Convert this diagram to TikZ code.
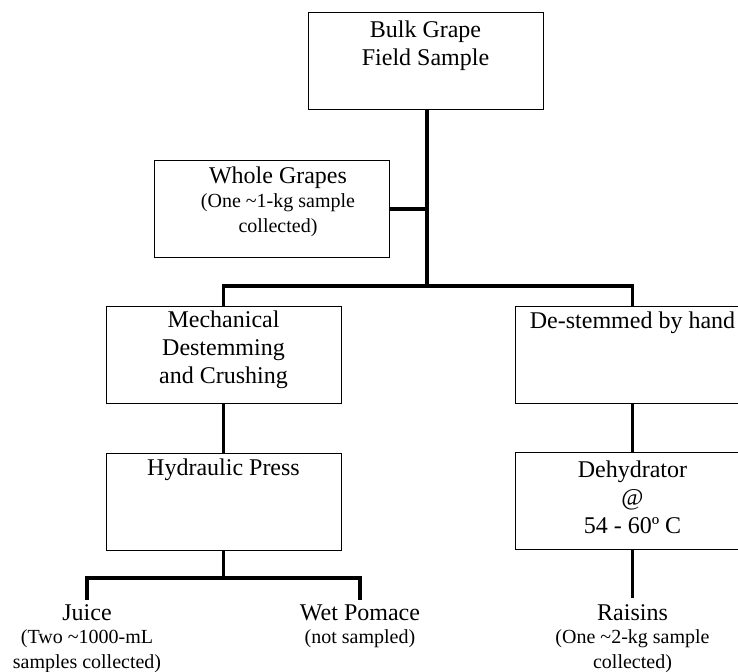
\documentclass[tikz,border=0pt]{standalone}
\usepackage{fontspec}
\setmainfont{Liberation Serif}
\begin{document}
\begin{tikzpicture}[x=0.5pt,y=-0.5pt,
    stage/.style={draw, line width=0.5pt, minimum width=117.5pt, minimum height=48.5pt, inner sep=0pt},
    link/.style={line width=1.6pt},
    title/.style={font=\fontsize{12}{14}\selectfont, align=center, inner sep=0pt},
    note/.style={font=\fontsize{10}{12.5}\selectfont, align=center, inner sep=0pt}]
    \useasboundingbox (0,0) rectangle (738,672);
    \clip (0,0) rectangle (738,672);

    % Draw the boxes
    \node[stage] (bulk) at (425.5,61.5) {};
    \node[stage] (whole) at (271.5,209) {};
    \node[stage] (mech) at (223.5,355.5) {};
    \node[stage] (destem) at (632.5,355.5) {};
    \node[stage] (press) at (223.5,502) {};
    \node[stage] (dryer) at (632.5,501) {};

    % Texts in the boxes
    \node[title] (bulktext) at (425.5,46) {Bulk Grape\\Field Sample};
    \node[title] (wholetext) at (278,178) {Whole Grapes};
    \node[note] (wholenote) at (278,215.5) {(One \textasciitilde1-kg sample\\collected)};
    \node[title] (mechtext) at (223.5,350) {Mechanical\\Destemming\\and Crushing};
    \node[title] (destemtext) at (632.5,323) {De-stemmed by hand};
    \node[title] (presstext) at (223.5,470) {Hydraulic Press};
    \node[title] (dryertext) at (632.5,497) {Dehydrator\\@\\54 - 60º C};

    % Products at the bottom
    \node[title] (juice) at (87,613) {Juice};
    \node[note] (juicenote) at (87,651) {(Two \textasciitilde1000-mL\\samples collected)};
    \node[title] (pomace) at (360,613) {Wet Pomace};
    \node[note] (pomacenote) at (360,639) {(not sampled)};
    \node[title] (raisins) at (632.5,613) {Raisins};
    \node[note] (raisinsnote) at (632.5,651) {(One \textasciitilde2-kg sample\\collected)};

    % Junctions
    \coordinate (split) at (427,286);
    \coordinate (fork) at (223.5,578);
    \coordinate (juicetop) at (87,600);
    \coordinate (pomacetop) at (360,600);
    \coordinate (raisinstop) at (632.5,598);

    % Draw the connectors
    \draw[link] (bulk.south -| split) -- (split);
    \draw[link] (whole.east) -- (whole.east -| split);
    \draw[link] (mech.north) |- (split) -| (destem.north);
    \draw[link] (mech.south) -- (press.north);
    \draw[link] (destem.south) -- (dryer.north);
    \draw[link] (press.south) -- (fork);
    \draw[link] (juicetop) |- (fork) -| (pomacetop);
    \draw[link] (dryer.south) -- (raisinstop);

\end{tikzpicture}
\end{document}
